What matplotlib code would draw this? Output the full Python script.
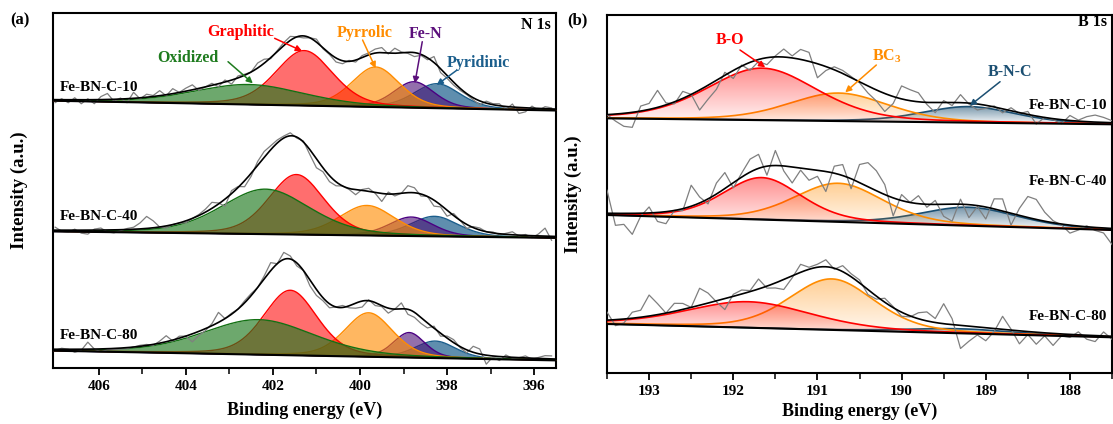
import numpy as np
import matplotlib
matplotlib.use("Agg")
import matplotlib.pyplot as plt
from matplotlib.colors import to_rgba, LinearSegmentedColormap
from matplotlib.patches import Polygon

plt.rcParams["font.family"] = ["Liberation Serif", "DejaVu Serif"]
plt.rcParams["font.weight"] = "bold"
plt.rcParams["axes.labelweight"] = "bold"
plt.rcParams["mathtext.fontset"] = "custom"
plt.rcParams["mathtext.bf"] = "Liberation Serif:bold"

samples = ["Fe-BN-C-10", "Fe-BN-C-40", "Fe-BN-C-80"]

# ---- N 1s: components per sample (Oxidized, Graphitic, Pyrrolic, Fe-N, Pyridinic)
n_names = ["Oxidized", "Graphitic", "Pyrrolic", "Fe-N", "Pyridinic"]
n_center = [[402.55, 401.28, 399.64, 398.76, 398.23],
            [402.17, 401.46, 399.84, 398.82, 398.29],
            [402.33, 401.60, 399.80, 398.87, 398.27]]
n_height = [[20, 55, 40, 26, 24.5],
            [45, 60, 30, 19, 20],
            [35, 65, 44, 25, 17]]
n_fwhm = [[3.0, 1.55, 1.3, 1.1, 1.25],
          [2.4, 1.5, 1.5, 1.2, 1.3],
          [3.0, 1.45, 1.3, 0.85, 1.1]]
n_bg_left = [267.3, 136.6, 17.3]    # background at 407.05 eV
n_bg_right = [257.5, 130.1, 7.6]    # background at 395.5 eV

# raw-minus-fit residuals, 407.0 -> 395.6 eV
n10_noise = [-3, 1, -3, 2, -4, 1, -4, 3, 6, -2, 1, -4, 6, -1, 3, 1, 5, -1, 5, 0,
             3, 5, -2, 0, 2, -3, 2, -4, 2, 1, 0, 5, 4, -1, 1, 3, 4, 0, -2, 0,
             3, -1, -1, -4, -3, 1, -2, 2, 2, 4, 5, -1, 5, 1, -1, -4, -1, -2, 6, -4,
             -3, -3, -2, -1, -2, -4, 2, 1, 2, -3, 3, -6, -4, 2, -2, 2, 1]
n40_noise = [3, -1, -2, 1, -3, -4, 1, 2, -2, -3, -1, 1, 2, 6, 12, 7, 0, -2, 0, 0,
             -2, 0, 1, 3, 6, 1, -7, 3, 1, -6, -3, 4, 6, 4, 3, 2, 3, -1, 1, -5,
             -9, -4, -6, -4, 0, -1, -5, 1, 3, -1, -8, 2, -2, 0, 7, 5, -2, 0, -6, -2,
             -6, 2, 0, -4, 1, 2, 0, 1, -1, 1, 3, -1, 1, -2, 2, 8, -4]
n80_noise = [-1, 1, 0, -3, -1, 7, 0, -3, -1, -1, -1, -1, 0, 1, 1, -1, 2, 6, -1, 2,
             0, -8, -4, -2, 2, 10, 0, 1, 0, 2, 2, 0, 3, 8, 0, 7, 3, -3, 0, -6,
             -6, -3, -4, 0, 2, -2, -5, -6, 1, -3, -1, -5, 0, 6, -5, -5, -6, -5, 2, -3,
             2, 3, -1, -3, 6, 5, -9, -1, -4, 2, -1, 0, 2, -1, 1, 3, 3]

# ---- B 1s: components per sample (B-O, BC3, B-N-C)
b_names = ["B-O", r"$\mathbf{BC_3}$", "B-N-C"]
b_center = [[191.66, 190.75, 189.20],
            [191.66, 190.75, 189.20],
            [191.82, 190.83, 189.30]]
b_height = [[52, 28, 16],
            [42, 38.6, 18.5],
            [26, 51, 4.5]]
b_fwhm = [[1.55, 1.4, 1.3],
          [1.1, 1.25, 1.35],
          [1.75, 1.2, 1.5]]
b_bg_left = [254.7, 158.0, 49.0]    # at 193.5 eV
b_bg_right = [248.7, 143.0, 35.7]   # at 187.5 eV

# raw-minus-fit residuals, 193.5 -> 187.5 eV
b10_noise = [0, -7, -13, -15, 5, 6, 17, 2, -2, 7, 0, -20, -14, -9, 3, -8, 1, -8, -2, -7,
             1, 8, 2, 10, 9, -14, -4, 3, 3, 1, -1, -7, -11, -18, -7, 13, 11, 9, -2, -10,
             2, -3, 8, -1, -6, -3, 1, -4, 3, -1, 3, -8, 0, -1, -4, 5, 1, 5, 7, 5, 2]
b40_noise = [23, -12, -11, -21, -3, 6, -9, -12, 0, -2, 21, 6, -5, 11, 16, -5, 4, 13, 14, -9,
             15, -5, -16, -2, -11, -6, -20, 7, 11, -10, 18, 24, 20, 10, -18, 6, 0, 8, -3, 4,
             -12, -17, 5, -13, -1, -12, 10, 12, -12, 7, 21, 20, 9, 2, -1, -8, -4, 1, -3, -5, -16]
b80_noise = [8, -6, -4, 6, 7, 21, 11, 0, 8, 6, 0, 17, 10, -1, -11, 2, 4, 1, 10, -2,
             -5, -10, -2, 8, 2, 3, 7, -1, 6, 3, 3, -5, -3, 4, 1, -4, -1, 6, 9, 4,
             20, 6, -23, -15, -8, -13, -3, 13, 1, -13, -3, -12, -3, -12, -2, -3, 3, -4, -6, 4, -3]

n_face = ["#1f7a1f", "#ff0000", "#ff8c00", "#4b1075", "#1b5e8c"]
n_alpha = [0.65, 0.57, 0.62, 0.6, 0.7]
n_edge = ["#137013", "#ff0000", "#ff8c00", "#4b0082", "#1b5e8c"]
n_layer = [6, 5, 4, 3, 2]   # green over red over orange over purple over blue
b_col = ["#ff0000", "#ff8c00", "#1b4f72"]
b_alpha = [0.45, 0.42, 0.6]
GRAY = "#7f7f7f"


def gl(x, c, h, w, m=0.3):
    u = (x - c) / w
    return h * ((1 - m) * np.exp(-4 * np.log(2) * u ** 2) + m / (1 + 4 * u ** 2))


def fit(x, cs, hs, ws):
    return [gl(x, c, h, w) for c, h, w in zip(cs, hs, ws)]


fig = plt.figure(figsize=(11.13, 4.24), dpi=100)
axa = fig.add_axes([0.0476, 0.1321, 0.4519, 0.8365])
axb = fig.add_axes([0.5454, 0.1203, 0.4537, 0.8443])

# ---------------- (a) N 1s
NX = (407.05, 395.5)
x = np.linspace(NX[1], NX[0], 800)
for i, noise in enumerate([n10_noise, n40_noise, n80_noise]):
    bg = np.interp(x, [NX[1], NX[0]], [n_bg_right[i], n_bg_left[i]])
    comps = fit(x, n_center[i], n_height[i], n_fwhm[i])
    for k, comp in enumerate(comps):
        axa.fill_between(x, bg, bg + comp, color=n_face[k], alpha=n_alpha[k], lw=0, zorder=n_layer[k])
        axa.plot(x, bg + comp, color=n_edge[k], lw=1.0, zorder=n_layer[k])
    xr = np.linspace(407.0, 395.6, len(noise))
    bgr = np.interp(xr, [NX[1], NX[0]], [n_bg_right[i], n_bg_left[i]])
    raw = bgr + np.sum(fit(xr, n_center[i], n_height[i], n_fwhm[i]), axis=0) + np.array(noise)
    axa.plot(xr, raw, color=GRAY, lw=0.9, zorder=8)
    axa.plot(x, bg + np.sum(comps, axis=0), color="k", lw=1.2, zorder=9)
    axa.plot(x, bg, color="k", lw=1.5, zorder=9)

axa.text(0.014, 281, samples[0], transform=axa.get_yaxis_transform(), fontsize=11, va="center")
axa.text(0.014, 151.6, samples[1], transform=axa.get_yaxis_transform(), fontsize=11, va="center")
axa.text(0.014, 32.3, samples[2], transform=axa.get_yaxis_transform(), fontsize=11, va="center")
axa.text(0.99, 0.967, "N 1s", transform=axa.transAxes, fontsize=11.5, ha="right", va="center")

# label position, arrow tail, arrow head
n_ann_text = [(403.95, 309.7), (402.73, 336.3), (399.90, 335.3), (398.49, 334.0), (397.27, 305.3)]
n_ann_tail = [(403.03, 306.3), (401.96, 329.7), (399.94, 328.0), (398.57, 326.3), (397.77, 298.0)]
n_ann_head = [(402.46, 284.7), (401.33, 317.0), (399.64, 299.7), (398.74, 284.7), (398.24, 283.0)]
n_ann_col = ["#1e7b1e", "#ff0000", "#ff8c00", "#5b0f7b", "#1b5e8c"]
for name, t, a, h, c in zip(n_names, n_ann_text, n_ann_tail, n_ann_head, n_ann_col):
    axa.text(t[0], t[1], name, color=c, fontsize=11.5, ha="center", va="center", zorder=12)
    axa.annotate("", xy=h, xytext=a, zorder=12,
                 arrowprops=dict(arrowstyle="-|>", color=c, lw=1.1, mutation_scale=9,
                                 shrinkA=0, shrinkB=0))

axa.set_xlim(*NX)
axa.set_ylim(0, 354.7)
axa.set_xticks([406, 404, 402, 400, 398, 396])
axa.set_xticks(np.arange(396, 407), minor=True)
axa.set_yticks([])
axa.set_xlabel("Binding energy (eV)", fontsize=13, labelpad=6)
axa.set_ylabel("Intensity (a.u.)", fontsize=13.5, labelpad=18)

# ---------------- (b) B 1s
BX = (193.5, 187.5)
x = np.linspace(BX[1], BX[0], 800)
for i, noise in enumerate([b10_noise, b40_noise, b80_noise]):
    bg = np.interp(x, [BX[1], BX[0]], [b_bg_right[i], b_bg_left[i]])
    comps = fit(x, b_center[i], b_height[i], b_fwhm[i])
    for k in [2, 1, 0]:
        top = bg + comps[k]
        z = 2 + 2 - k
        verts = np.column_stack([np.r_[x, x[::-1]], np.r_[top, bg[::-1]]])
        patch = Polygon(verts, closed=True, fc="none", ec="none", zorder=z)
        axb.add_patch(patch)
        cmap = LinearSegmentedColormap.from_list(
            "g", [to_rgba(b_col[k], 0.03), to_rgba(b_col[k], b_alpha[k])])
        grad = np.linspace(0, 1, 256).reshape(-1, 1)
        im = axb.imshow(grad, extent=[BX[1], BX[0], bg.min(), top.max()], origin="lower",
                        aspect="auto", cmap=cmap, zorder=z, interpolation="bilinear")
        im.set_clip_path(patch)
        axb.plot(x, top, color=b_col[k], lw=1.2, zorder=z)
    xr = np.linspace(193.5, 187.5, len(noise))
    bgr = np.interp(xr, [BX[1], BX[0]], [b_bg_right[i], b_bg_left[i]])
    raw = bgr + np.sum(fit(xr, b_center[i], b_height[i], b_fwhm[i]), axis=0) + np.array(noise)
    axb.plot(xr, raw, color=GRAY, lw=0.9, zorder=8)
    axb.plot(x, bg + np.sum(comps, axis=0), color="k", lw=1.2, zorder=9)
    axb.plot(x, bg, color="k", lw=1.5, zorder=9)

axb.text(0.99, 268, samples[0], transform=axb.get_yaxis_transform(), fontsize=11, ha="right", va="center", zorder=12)
axb.text(0.99, 191.3, samples[1], transform=axb.get_yaxis_transform(), fontsize=11, ha="right", va="center", zorder=12)
axb.text(0.99, 56.3, samples[2], transform=axb.get_yaxis_transform(), fontsize=11, ha="right", va="center", zorder=12)
axb.text(0.99, 0.98, "B 1s", transform=axb.transAxes, fontsize=11.5, ha="right", va="center")

b_ann_text = [(192.04, 333.0), (190.18, 316.3), (188.71, 301.3)]
b_ann_tail = [(191.92, 323.0), (190.30, 308.0), (188.83, 291.3)]
b_ann_head = [(191.62, 305.7), (190.67, 280.7), (189.19, 267.3)]
for name, t, a, h, c in zip(b_names, b_ann_text, b_ann_tail, b_ann_head, b_col):
    axb.text(t[0], t[1], name, color=c, fontsize=11.5, ha="center", va="center", zorder=12)
    axb.annotate("", xy=h, xytext=a, zorder=12,
                 arrowprops=dict(arrowstyle="-|>", color=c, lw=1.1, mutation_scale=9,
                                 shrinkA=0, shrinkB=0))

axb.set_xlim(*BX)
axb.set_ylim(0, 358)
axb.set_xticks([193, 192, 191, 190, 189, 188])
axb.set_xticks(np.arange(187.5, 193.6, 0.5), minor=True)
axb.set_yticks([])
axb.set_xlabel("Binding energy (eV)", fontsize=13, labelpad=3)
axb.set_ylabel("Intensity (a.u.)", fontsize=13.5, labelpad=18)

for ax in (axa, axb):
    for s in ax.spines.values():
        s.set_linewidth(1.5)
    ax.tick_params(axis="x", which="major", direction="out", length=5, width=1.3, labelsize=11, pad=4)
    ax.tick_params(axis="x", which="minor", direction="out", length=4, width=1.1)

fig.text(0.009, 0.951, "(a)", fontsize=12, va="center")
fig.text(0.510, 0.9517, "(b)", fontsize=12, va="center")

fig.savefig("out.png", dpi=100)
